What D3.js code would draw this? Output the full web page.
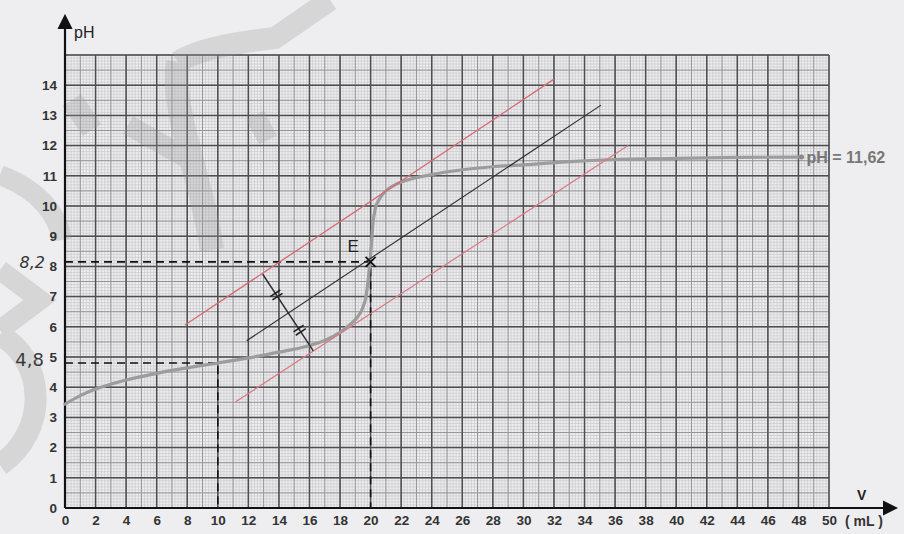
<!DOCTYPE html>
<html>
<head>
<meta charset="utf-8">
<script src="https://cdn.jsdelivr.net/npm/d3@7"></script>
<style>
  body { margin: 0; background: #eeeef0; }
  svg { display: block; font-family: Arial, "Liberation Sans", sans-serif; }
</style>
</head>
<body>
<div id="chart"></div>
<script>
// titration curve pH = f(V)
const volume = [0, 1, 2, 3, 4, 6, 8, 10, 12, 14, 16, 17, 18, 18.6, 19.1, 19.5, 19.7, 19.85, 19.95, 20.05, 20.15, 20.3, 20.6, 21, 21.6, 22.4, 24, 26, 28, 30, 33, 36, 40, 44, 48.2];
const ph = [3.44, 3.72, 3.94, 4.1, 4.24, 4.46, 4.64, 4.8, 4.97, 5.16, 5.38, 5.55, 5.82, 6.05, 6.3, 6.65, 7.0, 7.6, 8.1, 8.7, 9.4, 9.9, 10.25, 10.5, 10.7, 10.86, 11.04, 11.2, 11.3, 11.36, 11.47, 11.54, 11.58, 11.61, 11.62];

// construction lines (parallel tangents method), endpoints [V, pH]
const tangentUpper = [[7.85, 6.06], [32.0, 14.2]];
const tangentLower = [[11.17, 3.52], [36.85, 12.0]];
const middleLine = [[11.89, 5.54], [35.08, 13.34]];
const perpSegment = [[12.94, 7.74], [16.25, 5.2]];

const equivalence = { v: 20, ph: 8.15 };
const halfEq = { v: 10, ph: 4.8 };
const finalPh = { v: 48.2, ph: 11.62, label: 'pH = 11,62' };

const xTicks = d3.range(0, 51, 2);
const yTicks = d3.range(0, 15, 1);

const width = 904, height = 534;
const x = d3.scaleLinear().domain([0, 50]).range([65, 829]);
const y = d3.scaleLinear().domain([0, 15]).range([508, 55]);

const svg = d3.select('#chart').append('svg')
  .attr('width', width)
  .attr('height', height);

svg.append('rect').attr('width', width).attr('height', height).attr('fill', '#eeeef0');

// --- millimetre paper grid ---
const grid = svg.append('g');
function gridLines(stepX, stepY, color, w) {
  grid.append('g').selectAll('line')
    .data(d3.range(0, 50 + 1e-6, stepX))
    .enter().append('line')
    .attr('x1', d => x(d)).attr('x2', d => x(d))
    .attr('y1', y(0)).attr('y2', y(15))
    .attr('stroke', color).attr('stroke-width', w);
  grid.append('g').selectAll('line')
    .data(d3.range(0, 15 + 1e-6, stepY))
    .enter().append('line')
    .attr('y1', d => y(d)).attr('y2', d => y(d))
    .attr('x1', x(0)).attr('x2', x(50))
    .attr('stroke', color).attr('stroke-width', w);
}
gridLines(0.2, 0.1, '#c4c4c8', 0.6);
gridLines(1, 0.5, '#8e8e92', 0.9);
gridLines(2, 1, '#4e4e52', 1.5);

// --- watermark (faint grey strokes) ---
const wm = svg.append('g').attr('fill', 'none').attr('stroke', '#9a9a9a').attr('opacity', 0.28)
  .attr('stroke-linecap', 'butt');
wm.append('path').attr('d', 'M330,0 L275,38 C240,42 200,48 178,62').attr('stroke-width', 22);
wm.append('path').attr('d', 'M178,62 C170,110 200,170 212,250').attr('stroke-width', 24);
wm.append('path').attr('d', 'M128,125 L190,160').attr('stroke-width', 20);
wm.append('path').attr('d', 'M72,100 L92,130').attr('stroke-width', 22);
wm.append('path').attr('d', 'M255,115 L268,140').attr('stroke-width', 20);
wm.append('path').attr('d', 'M0,175 C40,190 58,215 62,240').attr('stroke-width', 20);
wm.append('path').attr('d', 'M0,270 L40,300 L0,330').attr('stroke-width', 20);
wm.append('path').attr('d', 'M0,335 C45,360 50,430 0,465').attr('stroke-width', 22);

// --- axes ---
const axisColor = '#111';
svg.append('defs').append('marker')
  .attr('id', 'arrow').attr('viewBox', '0 0 10 10')
  .attr('refX', 8).attr('refY', 5)
  .attr('markerWidth', 7).attr('markerHeight', 7)
  .attr('orient', 'auto')
  .append('path').attr('d', 'M0,0 L10,5 L0,10 Z').attr('fill', axisColor);

svg.append('line')
  .attr('x1', x(0)).attr('y1', y(0)).attr('x2', x(0)).attr('y2', 17)
  .attr('stroke', axisColor).attr('stroke-width', 2.2).attr('marker-end', 'url(#arrow)');
svg.append('line')
  .attr('x1', x(0)).attr('y1', y(0)).attr('x2', 895).attr('y2', y(0))
  .attr('stroke', axisColor).attr('stroke-width', 2.2).attr('marker-end', 'url(#arrow)');

const xAxis = d3.axisBottom(x).tickValues(xTicks).tickSize(0).tickPadding(7);
svg.append('g').attr('transform', `translate(0,${y(0)})`).call(xAxis)
  .call(g => g.select('.domain').remove())
  .call(g => g.attr('font-family', null).attr('font-size', null))
  .selectAll('text')
  .attr('font-size', 13.5).attr('font-weight', 'bold').attr('fill', '#333');

const yAxis = d3.axisLeft(y).tickValues(yTicks).tickSize(0).tickPadding(8);
svg.append('g').attr('transform', `translate(${x(0)},0)`).call(yAxis)
  .call(g => g.select('.domain').remove())
  .call(g => g.attr('font-family', null).attr('font-size', null))
  .selectAll('text')
  .attr('font-size', 13.5).attr('font-weight', 'bold').attr('fill', '#333');

svg.append('text').attr('x', 74).attr('y', 38).text('pH')
  .attr('font-size', 16).attr('fill', '#222');
svg.append('text').attr('x', 857).attr('y', 500).text('V')
  .attr('font-size', 14).attr('font-weight', 'bold').attr('fill', '#222');
svg.append('text').attr('x', 845).attr('y', 526).text('( mL )')
  .attr('font-size', 14).attr('font-weight', 'bold').attr('fill', '#333');

// --- dashed reading lines ---
const dashes = svg.append('g').attr('stroke', '#111').attr('stroke-width', 1.6)
  .attr('stroke-dasharray', '8,5').attr('fill', 'none');
[equivalence, halfEq].forEach(p => {
  dashes.append('path')
    .attr('d', `M${x(0)},${y(p.ph)} H${x(p.v)} V${y(0)}`);
});

// --- titration curve ---
const line = d3.line()
  .x(d => x(d[0])).y(d => y(d[1]))
  .curve(d3.curveMonotoneX);
svg.append('path')
  .datum(volume.map((v, i) => [v, ph[i]]))
  .attr('d', line)
  .attr('fill', 'none').attr('stroke', '#9c9c9c').attr('stroke-width', 3.2)
  .attr('stroke-linecap', 'round');

svg.append('circle').attr('cx', x(finalPh.v)).attr('cy', y(finalPh.ph)).attr('r', 2.5).attr('fill', '#888');
svg.append('text').attr('x', x(finalPh.v) + 5).attr('y', y(finalPh.ph) + 6)
  .text(finalPh.label)
  .attr('font-size', 16).attr('font-weight', 'bold').attr('fill', '#777');

// --- parallel tangents ---
const seg = d3.line().x(d => x(d[0])).y(d => y(d[1]));
svg.append('path').datum(tangentUpper).attr('d', seg)
  .attr('stroke', '#d66a74').attr('stroke-width', 1.3).attr('fill', 'none');
svg.append('path').datum(tangentLower).attr('d', seg)
  .attr('stroke', '#d97a84').attr('stroke-width', 1.2).attr('fill', 'none');
svg.append('path').datum(middleLine).attr('d', seg)
  .attr('stroke', '#2a2a30').attr('stroke-width', 1.1).attr('fill', 'none');
svg.append('path').datum(perpSegment).attr('d', seg)
  .attr('stroke', '#2a2a30').attr('stroke-width', 1.4).attr('fill', 'none');

// equal-length marks on the perpendicular segment
const p0 = [x(perpSegment[0][0]), y(perpSegment[0][1])];
const p1 = [x(perpSegment[1][0]), y(perpSegment[1][1])];
const len = Math.hypot(p1[0] - p0[0], p1[1] - p0[1]);
const ux = (p1[0] - p0[0]) / len, uy = (p1[1] - p0[1]) / len;
const nx = -uy, ny = ux;
[0.27, 0.73].forEach(t => {
  const cx = p0[0] + (p1[0] - p0[0]) * t, cy = p0[1] + (p1[1] - p0[1]) * t;
  [-2, 2].forEach(o => {
    const mx = cx + ux * o, my = cy + uy * o;
    svg.append('line')
      .attr('x1', mx - nx * 6).attr('y1', my - ny * 6)
      .attr('x2', mx + nx * 6).attr('y2', my + ny * 6)
      .attr('stroke', '#222').attr('stroke-width', 1.6);
  });
});

// point E
const ex = x(equivalence.v), ey = y(equivalence.ph);
svg.append('path')
  .attr('d', `M${ex - 5},${ey - 5} L${ex + 5},${ey + 5} M${ex - 5},${ey + 5} L${ex + 5},${ey - 5}`)
  .attr('stroke', '#111').attr('stroke-width', 1.8);
svg.append('text').attr('x', ex - 23).attr('y', ey - 10).text('E')
  .attr('font-size', 17).attr('fill', '#222');

// handwritten readings
svg.append('text').attr('x', 45).attr('y', 268).attr('text-anchor', 'end').text('8,2')
  .attr('font-size', 16).attr('font-style', 'italic').attr('fill', '#333')
  .attr('font-family', '"DejaVu Sans", sans-serif');
svg.append('text').attr('x', 44).attr('y', 366).attr('text-anchor', 'end').text('4,8')
  .attr('font-size', 18).attr('fill', '#3a3a3a')
  .attr('font-family', '"DejaVu Sans", sans-serif');
</script>
</body>
</html>
